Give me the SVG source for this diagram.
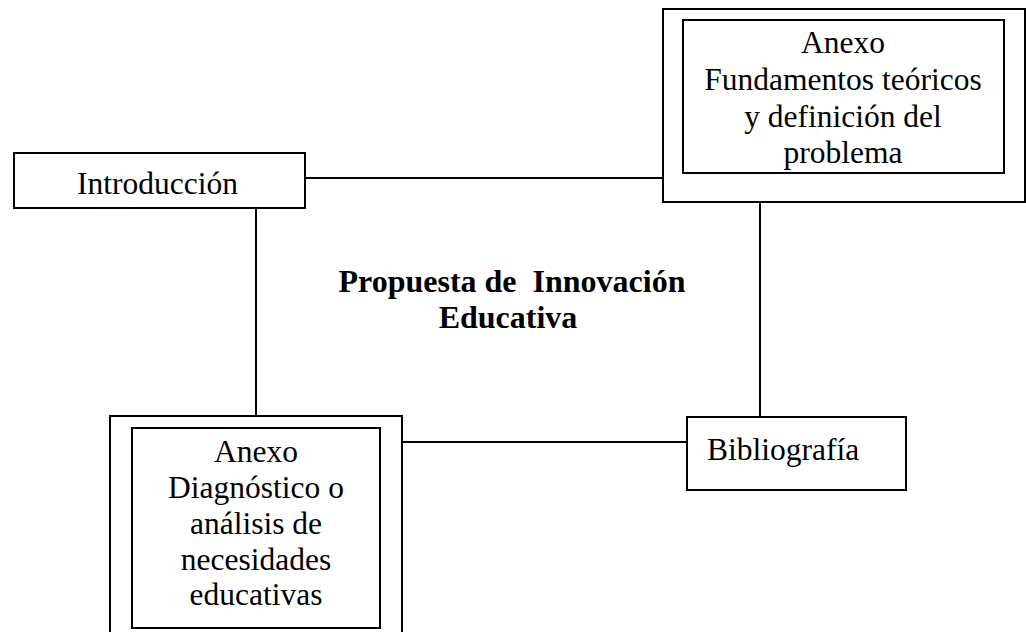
<svg xmlns="http://www.w3.org/2000/svg" width="1026" height="632" viewBox="0 0 1026 632">
<style>
.b{fill:none;stroke:#000;stroke-width:2}
.t{font-family:"Liberation Serif",serif;font-size:31.5px;fill:#000}
.c{text-anchor:middle}
.h{font-family:"Liberation Serif",serif;font-size:32px;font-weight:bold;fill:#000;text-anchor:middle}
</style>
<rect width="1026" height="632" fill="#fff"/>
<g id="connectors" stroke="#000" stroke-width="2">
<line x1="305" y1="178" x2="663" y2="178"/>
<line x1="256" y1="208" x2="256" y2="416"/>
<line x1="760" y1="202" x2="760" y2="417"/>
<line x1="402" y1="442" x2="687" y2="442"/>
</g>
<g id="introduccion">
<rect class="b" x="14" y="153" width="291" height="55"/>
<text class="t" x="77" y="194">Introducción</text>
</g>
<g id="anexo-fundamentos">
<rect class="b" x="663" y="9" width="362" height="193"/>
<rect class="b" x="683" y="20" width="321" height="153"/>
<text class="t c" x="843" y="53">Anexo</text>
<text class="t c" x="843" y="90">Fundamentos teóricos</text>
<text class="t c" x="843" y="127">y definición del</text>
<text class="t c" x="843" y="163">problema</text>
</g>
<g id="anexo-diagnostico">
<rect class="b" x="110" y="416" width="292" height="230"/>
<rect class="b" x="132" y="428" width="248" height="200"/>
<text class="t c" x="256" y="462">Anexo</text>
<text class="t c" x="256" y="498">Diagnóstico o</text>
<text class="t c" x="256" y="534">análisis de</text>
<text class="t c" x="256" y="570">necesidades</text>
<text class="t c" x="256" y="605">educativas</text>
</g>
<g id="bibliografia">
<rect class="b" x="687" y="417" width="219" height="73"/>
<text class="t" x="707" y="460">Bibliografía</text>
</g>
<g id="title">
<text class="h" x="512" y="292" xml:space="preserve">Propuesta de  Innovación</text>
<text class="h" x="508" y="328">Educativa</text>
</g>
</svg>
